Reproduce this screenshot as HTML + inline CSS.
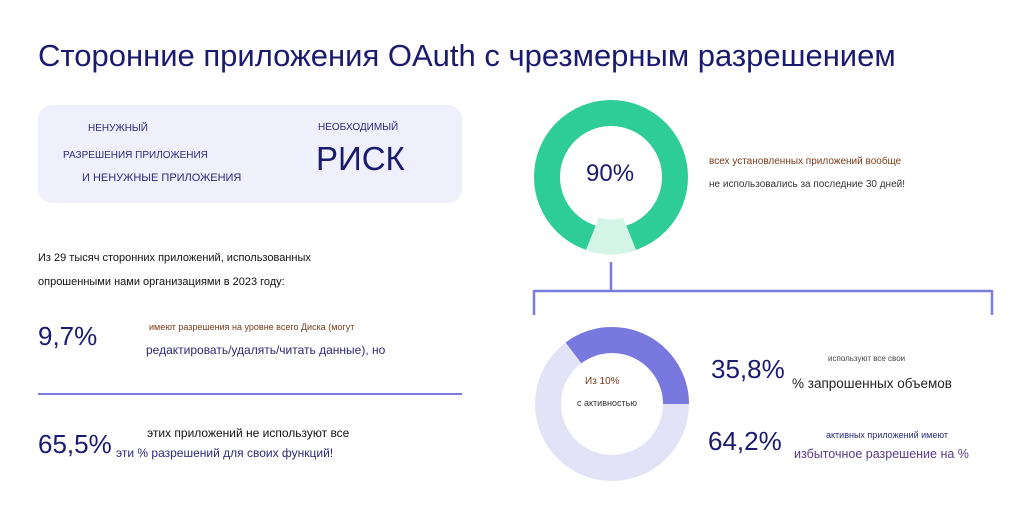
<!DOCTYPE html>
<html><head><meta charset="utf-8"><style>
body{margin:0;width:1024px;height:510px;background:#fff;position:relative;font-family:"Liberation Sans","Noto Sans CJK SC",sans-serif;overflow:hidden}
.t{position:absolute;white-space:nowrap}
</style></head><body>
<div class="t" style="left:38px;top:38px;font-size:31px;color:#1a1a6e">Сторонние приложения OAuth с чрезмерным разрешением</div>
<div style="position:absolute;left:38px;top:105px;width:424px;height:98px;background:#eff0fb;border-radius:14px"></div>
<div class="t" style="left:88px;top:123px;font-size:10px;color:#2a2a7a">НЕНУЖНЫЙ</div>
<div class="t" style="left:63px;top:150px;font-size:10px;color:#2a2a7a">РАЗРЕШЕНИЯ ПРИЛОЖЕНИЯ</div>
<div class="t" style="left:82px;top:172px;font-size:11px;color:#2a2a7a">И НЕНУЖНЫЕ ПРИЛОЖЕНИЯ</div>
<div class="t" style="left:318px;top:122px;font-size:10px;color:#2a2a7a">НЕОБХОДИМЫЙ</div>
<div class="t" style="left:316px;top:140px;font-size:33px;color:#1a1a6e">РИСК</div>
<div class="t" style="left:38px;top:252px;font-size:11px;color:#111">Из 29 тысяч сторонних приложений, использованных</div>
<div class="t" style="left:38px;top:276px;font-size:11px;color:#111">опрошенными нами организациями в 2023 году:</div>
<div class="t" style="left:38px;top:321px;font-size:26px;color:#1a1a6e">9,7%</div>
<div class="t" style="left:149px;top:322px;font-size:9px;color:#7a3a1a">имеют разрешения на уровне всего Диска (могут</div>
<div class="t" style="left:146px;top:343px;font-size:12px;color:#2a2a7a">редактировать/удалять/читать данные), но</div>
<div style="position:absolute;left:38px;top:393px;width:424px;height:2px;background:#7b7be0"></div>
<div class="t" style="left:38px;top:429px;font-size:26px;color:#1a1a6e">65,5%</div>
<div class="t" style="left:147px;top:426px;font-size:12px;color:#111">этих приложений не используют все</div>
<div class="t" style="left:116px;top:446px;font-size:12px;color:#2a2a7a">эти % разрешений для своих функций!</div>
<svg style="position:absolute;left:0;top:0" width="1024" height="510">
<circle cx="611" cy="177" r="64" fill="none" stroke="#2ecc96" stroke-width="26"/>
<path d="M585.8,250.3 L598.9,217.7 A41,41 0 0 0 623.1,217.7 L636.2,250.3 A77,77 0 0 1 585.8,250.3Z" fill="#d4f4e8"/>
<path d="M611 262V290M534 291H992M534 290V315M992 290V315" stroke="#7b7be0" stroke-width="2.5" fill="none"/>
<circle cx="612" cy="404" r="64" fill="none" stroke="#e3e3f8" stroke-width="26"/>
<path d="M565.6,342.5 A77,77 0 0 1 689,404 L663,404 A51,51 0 0 0 581.3,363.3Z" fill="#7878de"/>
</svg>
<div class="t" style="left:586px;top:160px;font-size:24px;color:#1a1a6e">90%</div>
<div class="t" style="left:709px;top:156px;font-size:10px;color:#7a3a1a">всех установленных приложений вообще</div>
<div class="t" style="left:709px;top:179px;font-size:10px;color:#333">не использовались за последние 30 дней!</div>
<div class="t" style="left:585px;top:376px;font-size:10px;color:#7a3a1a">Из 10%</div>
<div class="t" style="left:577px;top:398px;font-size:9px;color:#333">с активностью</div>
<div class="t" style="left:711px;top:354px;font-size:26px;color:#1a1a6e">35,8%</div>
<div class="t" style="left:828px;top:354px;font-size:8px;color:#444">используют все свои</div>
<div class="t" style="left:792px;top:376px;font-size:13.5px;color:#222">% запрошенных объемов</div>
<div class="t" style="left:708px;top:426px;font-size:26px;color:#1a1a6e">64,2%</div>
<div class="t" style="left:826px;top:430px;font-size:9px;color:#2a2a7a">активных приложений имеют</div>
<div class="t" style="left:794px;top:447px;font-size:12.5px;color:#5a3a8a">избыточное разрешение на %</div>
</body></html>
